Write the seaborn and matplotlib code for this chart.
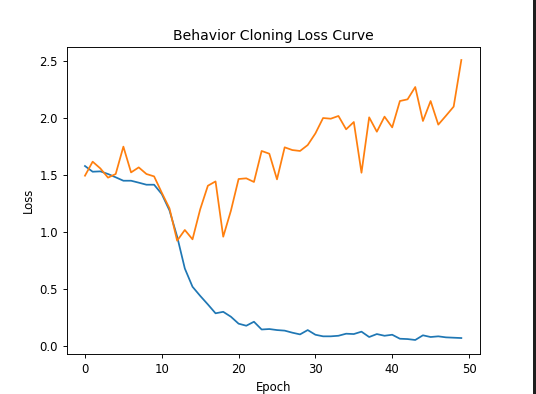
import matplotlib
matplotlib.use("Agg")
import matplotlib.pyplot as plt
import seaborn as sns
import pandas as pd
from matplotlib.patches import Rectangle

epochs = list(range(50))
train_loss = [1.579, 1.529, 1.532, 1.509, 1.480, 1.450, 1.450, 1.433, 1.415, 1.415,
              1.333, 1.190, 0.960, 0.680, 0.520, 0.440, 0.365, 0.287, 0.300, 0.257,
              0.196, 0.178, 0.213, 0.145, 0.149, 0.140, 0.135, 0.117, 0.102, 0.140,
              0.099, 0.085, 0.085, 0.090, 0.108, 0.105, 0.126, 0.079, 0.105, 0.090,
              0.099, 0.064, 0.061, 0.053, 0.094, 0.079, 0.085, 0.076, 0.073, 0.070]
val_loss = [1.494, 1.617, 1.558, 1.477, 1.509, 1.749, 1.523, 1.567, 1.509, 1.488,
            1.345, 1.208, 0.924, 1.018, 0.936, 1.199, 1.406, 1.444, 0.959, 1.187,
            1.465, 1.471, 1.439, 1.711, 1.687, 1.462, 1.743, 1.719, 1.711, 1.763,
            1.865, 2.000, 1.994, 2.018, 1.901, 1.965, 1.520, 2.006, 1.880, 2.012,
            1.918, 2.149, 2.164, 2.272, 1.974, 2.149, 1.942, 2.020, 2.100, 2.509]

s = 0.8375
plt.rcParams.update({
    "font.size": 10 * s,
    "axes.titlesize": 12 * s,
    "axes.labelsize": 10 * s,
    "xtick.labelsize": 10 * s,
    "ytick.labelsize": 10 * s,
    "axes.linewidth": 0.8 * s,
    "xtick.major.width": 0.8 * s,
    "ytick.major.width": 0.8 * s,
    "xtick.major.size": 3.5 * s,
    "ytick.major.size": 3.5 * s,
    "font.family": ["DejaVu Sans"],
})

df = pd.DataFrame({"Epoch": epochs + epochs,
                   "Loss": train_loss + val_loss,
                   "series": ["Train"] * 50 + ["Val"] * 50})

fig = plt.figure(figsize=(5.36, 3.94), dpi=100)
ax = fig.add_axes([67 / 536, 1 - 354 / 394, (480 - 67) / 536, (354 - 47) / 394])
sns.lineplot(data=df, x="Epoch", y="Loss", hue="series",
             palette=["#1f77b4", "#ff7f0e"], linewidth=1.5 * s, ax=ax, legend=False)
ax.set_title("Behavior Cloning Loss Curve", pad=6 * s)
ax.set_xlabel("Epoch", labelpad=4 * s)
ax.set_ylabel("Loss", labelpad=4 * s)
ax.set_xticks([0, 10, 20, 30, 40, 50])
ax.set_yticks([0.0, 0.5, 1.0, 1.5, 2.0, 2.5])
ax.set_xlim(-2.34, 51.43)
ax.set_ylim(-0.070, 2.623)

fig.patches.append(Rectangle((533 / 536, 0), 3 / 536, 1, transform=fig.transFigure,
                             facecolor="#1e1e1e", edgecolor="none"))
fig.savefig("out.png", dpi=100)
